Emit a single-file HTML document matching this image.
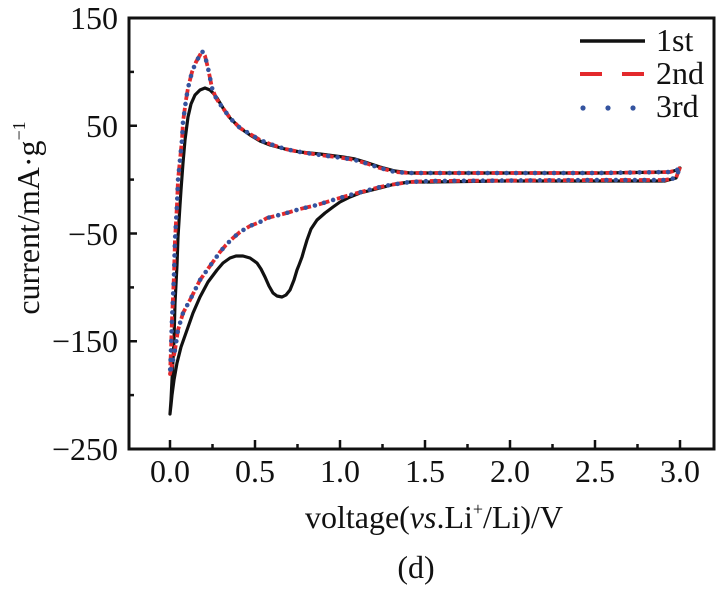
<!DOCTYPE html>
<html>
<head>
<meta charset="utf-8">
<style>
  html, body { margin: 0; padding: 0; background: #fff; }
  svg { display: block; }
  text { font-family: "Liberation Serif", "DejaVu Serif", serif; fill: #111; }
</style>
</head>
<body>
<svg width="720" height="597" viewBox="0 0 720 597" xmlns="http://www.w3.org/2000/svg">
  <rect width="720" height="597" fill="#fff"/>

  <!-- frame -->
  <rect x="129" y="18" width="585" height="431" fill="none" stroke="#111" stroke-width="3"/>

  <!-- left ticks -->
  <g stroke="#111" stroke-width="2.5">
    <line x1="129" y1="18" x2="137" y2="18"/>
    <line x1="129" y1="71.9" x2="134" y2="71.9"/>
    <line x1="129" y1="125.75" x2="137" y2="125.75"/>
    <line x1="129" y1="179.6" x2="134" y2="179.6"/>
    <line x1="129" y1="233.5" x2="137" y2="233.5"/>
    <line x1="129" y1="287.4" x2="134" y2="287.4"/>
    <line x1="129" y1="341.25" x2="137" y2="341.25"/>
    <line x1="129" y1="395.1" x2="134" y2="395.1"/>
  </g>
  <!-- bottom ticks -->
  <g stroke="#111" stroke-width="2.5">
    <line x1="170" y1="449" x2="170" y2="440"/>
    <line x1="212.5" y1="449" x2="212.5" y2="444"/>
    <line x1="255" y1="449" x2="255" y2="440"/>
    <line x1="297.5" y1="449" x2="297.5" y2="444"/>
    <line x1="340" y1="449" x2="340" y2="440"/>
    <line x1="382.5" y1="449" x2="382.5" y2="444"/>
    <line x1="425" y1="449" x2="425" y2="440"/>
    <line x1="467.5" y1="449" x2="467.5" y2="444"/>
    <line x1="510" y1="449" x2="510" y2="440"/>
    <line x1="552.5" y1="449" x2="552.5" y2="444"/>
    <line x1="595" y1="449" x2="595" y2="440"/>
    <line x1="637.5" y1="449" x2="637.5" y2="444"/>
    <line x1="680" y1="449" x2="680" y2="440"/>
  </g>

  <!-- y tick labels -->
  <g font-size="32" text-anchor="end">
    <text x="118" y="29">150</text>
    <text x="118" y="137">50</text>
    <text x="118" y="245">−50</text>
    <text x="118" y="352">−150</text>
    <text x="118" y="460">−250</text>
  </g>
  <!-- x tick labels -->
  <g font-size="32" text-anchor="middle">
    <text x="170" y="482">0.0</text>
    <text x="255" y="482">0.5</text>
    <text x="340" y="482">1.0</text>
    <text x="425" y="482">1.5</text>
    <text x="510" y="482">2.0</text>
    <text x="595" y="482">2.5</text>
    <text x="680" y="482">3.0</text>
  </g>

  <!-- axis titles -->
  <text x="434" y="528" font-size="32" text-anchor="middle">voltage(<tspan font-style="italic">vs</tspan>.Li<tspan font-size="18" dy="-13">+</tspan><tspan dy="13">/Li)/V</tspan></text>
  <text x="416" y="578" font-size="32" text-anchor="middle">(d)</text>
  <text transform="translate(39,218) rotate(-90)" font-size="32" text-anchor="middle">current/mA·g<tspan font-size="18" dy="-14">−1</tspan></text>

  <!-- 1st (black) -->
  <polyline fill="none" stroke="#111" stroke-width="3.2" stroke-linejoin="round" stroke-linecap="round"
    points="680,168 676,178 665,181 600,181 500,181 430,182 410,182 395,184 380,188 360,193 350,197 340,202 333,207 325,213 317,220 311,229 307,240 304,250 302,257 299,265 297,270 294,280 290,290 286,295 282,297 277,296 273,293 269,286 265,277 261,269 257,263 250,258 243,256 236,256 230,258 223,263 217,270 208,282 200,297 193,313 187,330 181,347 177,363 174,380 172,395 171,405 170,414 171,400 172,380 174,340 175,303 177,265 178,237 180,205 181,190 183,163 185,140 188,117 191,104 195,95 200,90 205,88 210,90 214,94 217,98 223,108 230,118 240,128 250,135 260,141 270,145 285,149 300,152 320,154 343,157 355,159 365,162 380,167 395,171 410,173 450,173 600,173 670,172 677,170 680,168"/>

  <!-- 2nd (red dashed) -->
  <polyline fill="none" stroke="#e3292c" stroke-width="3.8" stroke-linejoin="round" stroke-dasharray="11 8"
    points="680,167 676,178 665,180 600,180 430,181 410,182 390,185 380,187 365,191 350,195 333,200 317,205 300,209 290,212 283,214 267,218 260,222 250,226 240,232 233,238 226,245 220,252 210,266 200,280 195,290 190,300 183,313 178,330 175,350 172,365 170,374 171,350 172,320 174,275 175,240 177,205 178,180 180,160 182,140 183,122 186,100 188,88 192,72 196,62 200,55 202,51 205,56 208,68 212,88 216,98 220,104 230,118 240,128 250,134 260,140 270,144 285,149 300,152 320,155 343,158 355,160 365,163 380,168 395,172 410,173 600,173 670,172 677,170 680,167"/>

  <!-- 3rd (blue dotted) -->
  <polyline fill="none" stroke="#34539f" stroke-width="4.6" stroke-linejoin="round" stroke-linecap="round" stroke-dasharray="0 9.5" stroke-dashoffset="4"
    points="680,167 676,178 665,180 600,180 430,181 410,182 390,185 380,187 365,191 350,195 333,200 317,205 300,209 290,212 283,214 267,218 260,222 250,226 240,232 233,238 226,245 220,252 210,266 200,280 195,290 190,300 183,313 178,330 175,350 172,365 170,374 171,350 172,320 174,275 175,240 177,205 178,180 180,160 182,140 183,122 186,100 188,88 192,72 196,62 200,55 202,51 205,56 208,68 212,88 216,98 220,104 230,118 240,128 250,134 260,140 270,144 285,149 300,152 320,155 343,158 355,160 365,163 380,168 395,172 410,173 600,173 670,172 677,170 680,167"/>

  <!-- legend -->
  <line x1="580" y1="41" x2="645" y2="41" stroke="#111" stroke-width="3.5"/>
  <line x1="580" y1="74" x2="602" y2="74" stroke="#e3292c" stroke-width="4"/>
  <line x1="622" y1="74" x2="644" y2="74" stroke="#e3292c" stroke-width="4"/>
  <circle cx="583" cy="108" r="2.6" fill="#34539f"/>
  <circle cx="608" cy="108" r="2.6" fill="#34539f"/>
  <circle cx="633" cy="108" r="2.6" fill="#34539f"/>
  <g font-size="32">
    <text x="656" y="51">1st</text>
    <text x="656" y="84">2nd</text>
    <text x="656" y="117">3rd</text>
  </g>
</svg>
</body>
</html>
